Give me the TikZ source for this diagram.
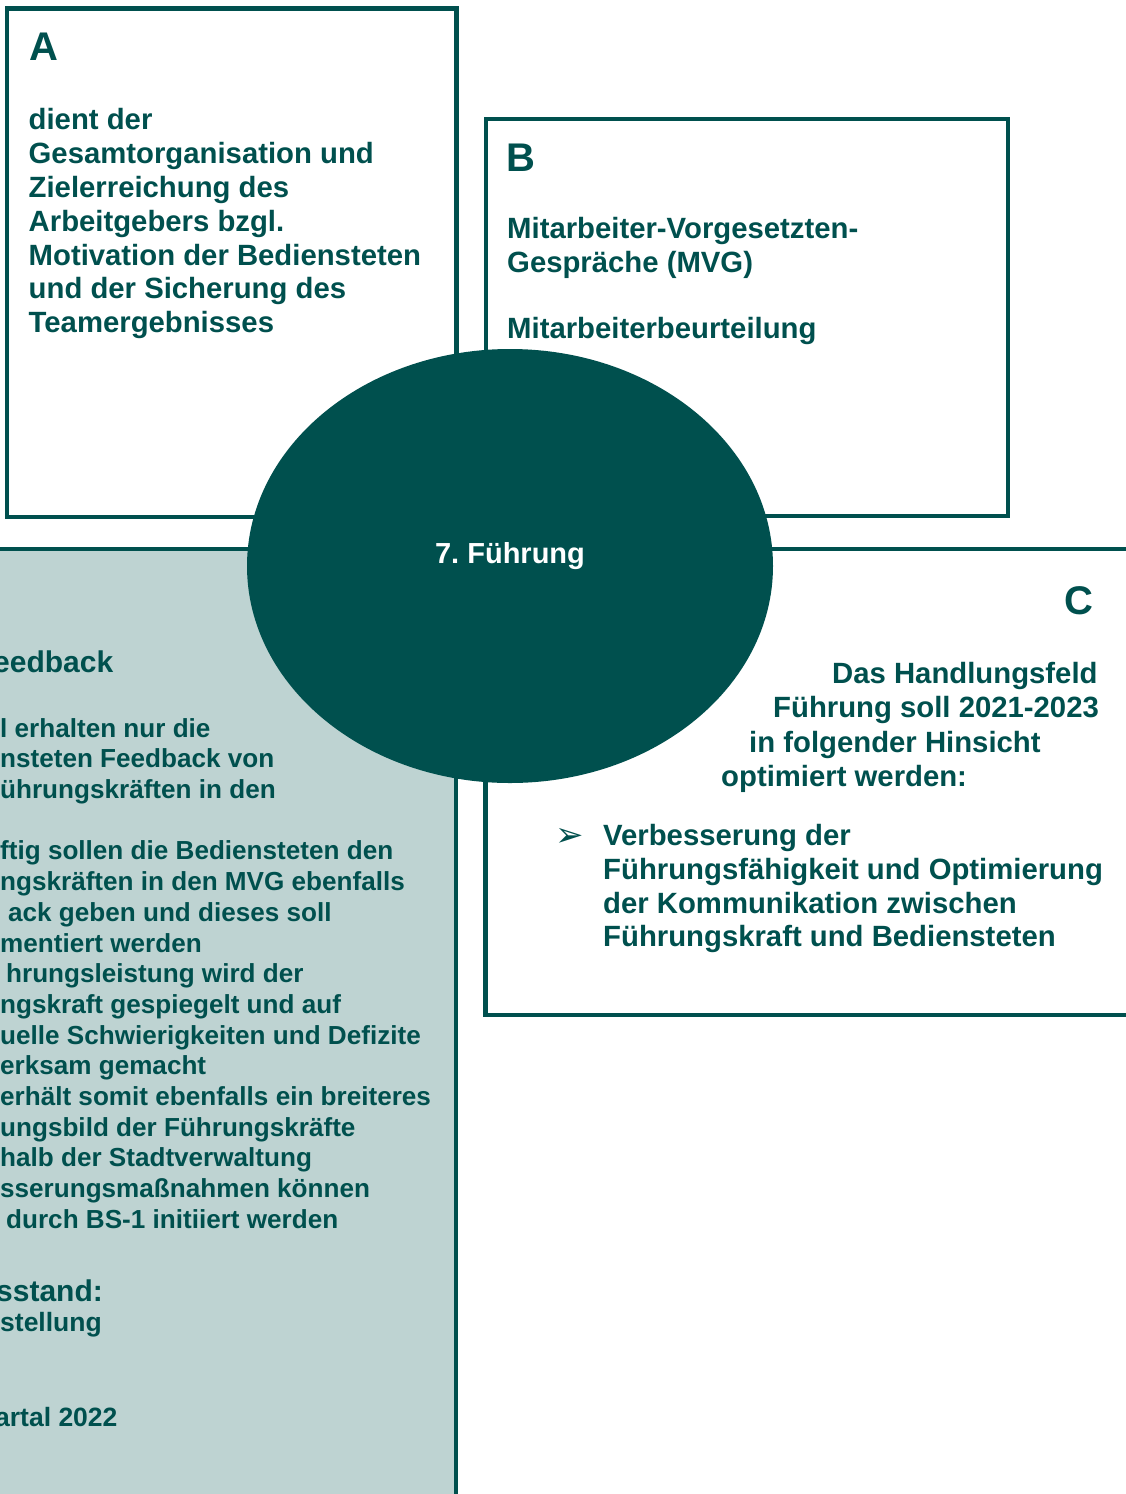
\documentclass[tikz,border=0pt]{standalone}
\usepackage{fontspec}
\setmainfont{Liberation Sans}
\newfontfamily\pfeilfont{DejaVu Sans}
\usetikzlibrary{shapes.geometric}
\definecolor{petrol}{RGB}{0,80,78}
\definecolor{mint}{RGB}{190,211,210}
\tikzset{
  rahmen/.style={draw=petrol, line width=4.5pt},
  feld/.style={anchor=north west, align=left, inner sep=0pt, text=petrol, font=\bfseries\fontsize{29.3}{33.8}\selectfont},
  zeile/.style={anchor=base west, inner sep=0pt, text=petrol, font=\bfseries\fontsize{29.3}{33.8}\selectfont},
  marke/.style={inner sep=0pt, text=petrol, font=\bfseries\fontsize{40}{40}\selectfont},
  kern/.style={ellipse, fill=petrol, minimum width=526pt, minimum height=434pt, inner sep=0pt},
  kerntext/.style={anchor=base, inner sep=0pt, text=white, font=\bfseries\fontsize{29}{33.8}\selectfont},
  fliess/.style={feld, font=\bfseries\fontsize{26.1}{30.7}\selectfont},
}

\begin{document}
\begin{tikzpicture}[x=1pt,y=-1pt]
  \useasboundingbox (0,0) rectangle (1126,1494);
  % Felder
  \draw[rahmen, fill=white] (7,8.5) rectangle (456.5,517);
  \draw[rahmen, fill=white] (486,119) rectangle (1008,516);
  \draw[rahmen, fill=mint] (-20,549) rectangle (456,1520);
  \draw[rahmen, fill=white] (485.5,549) rectangle (1150,1015);
  \node[kern] (kern) at (510,566) {};
  \node[kerntext] (titel) at (510,563) {7.\ Führung};
  % A
  \node[marke, anchor=base west] (la) at (29,60) {A};
  \node[feld] (ta) at (28.5,108.5) {dient der\\Gesamtorganisation und\\Zielerreichung des\\Arbeitgebers bzgl.\\Motivation der Bediensteten\\und der Sicherung des\\Teamergebnisses};
  % B
  \node[marke, anchor=base west] (lb) at (506,171) {B};
  \node[feld] (tb) at (507,217.5) {Mitarbeiter-Vorgesetzten-\\Gespräche (MVG)\\[32pt]Mitarbeiterbeurteilung};
  % C
  \node[marke, anchor=base east] (lc) at (1094,614) {C};
  \node[zeile] (c1) at (832,683.6) {Das Handlungsfeld};
  \node[zeile] (c2) at (773,717.9) {Führung soll 2021-2023};
  \node[zeile] (c3) at (749,752) {in folgender Hinsicht};
  \node[zeile] (c4) at (721,786) {optimiert werden:};
  \node[anchor=base west, inner sep=0pt, text=petrol, font=\pfeilfont\fontsize{34}{34}\selectfont] (pfeil) at (555,846) {➢};
  \node[feld] (tc) at (603,824) {Verbesserung der\\Führungsfähigkeit und Optimierung\\der Kommunikation zwischen\\Führungskraft und Bediensteten};
  % D (links angeschnitten)
  \node[zeile, font=\bfseries\fontsize{30}{34}\selectfont] (dk) at (-7,672.7) {eedback};
  \node[fliess] (td) at (0,718) {l erhalten nur die\\nsteten Feedback von\\ührungskräften in den\\[30.7pt]ftig sollen die Bediensteten den\\ngskräften in den MVG ebenfalls\\\hspace{8pt}ack geben und dieses soll\\mentiert werden\\\hspace{6pt}hrungsleistung wird der\\ngskraft gespiegelt und auf\\uelle Schwierigkeiten und Defizite\\erksam gemacht\\erhält somit ebenfalls ein breiteres\\ungsbild der Führungskräfte\\halb der Stadtverwaltung\\sserungsmaßnahmen können\\\hspace{6pt}durch BS-1 initiiert werden};
  \node[zeile, font=\bfseries\fontsize{30}{34}\selectfont] (ds) at (-4,1301) {sstand:};
  \node[zeile, font=\bfseries\fontsize{26.5}{30.7}\selectfont] (dst) at (0,1331.7) {stellung};
  \node[zeile, font=\bfseries\fontsize{26.5}{30.7}\selectfont] (dq) at (-5,1426) {artal 2022};
\end{tikzpicture}
\end{document}
